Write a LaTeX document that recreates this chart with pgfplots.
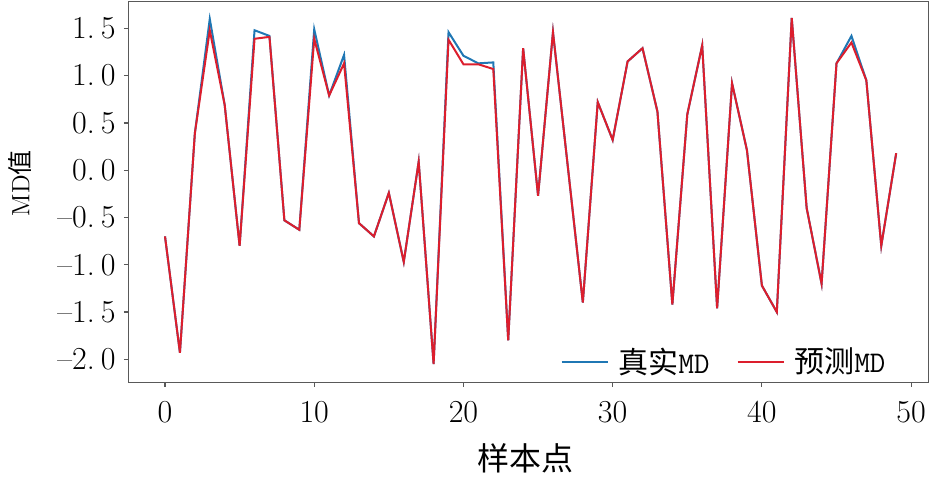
\documentclass[border=0pt]{standalone}
\usepackage{pgfplots}
\pgfplotsset{compat=1.18}
\usepackage{pgfplotstable}
\usepackage{fontspec}
\newfontfamily\cjk{Noto Sans CJK SC}
\definecolor{tblue}{HTML}{1F77B4}
\definecolor{tred}{RGB}{220,30,45}

\pgfplotstableread{
x y
0 -0.70
1 -1.93
2 0.39
3 1.60
4 0.69
5 -0.80
6 1.48
7 1.42
8 -0.53
9 -0.63
10 1.49
11 0.79
12 1.22
13 -0.56
14 -0.70
15 -0.24
16 -0.97
17 0.09
18 -2.05
19 1.46
20 1.21
21 1.13
22 1.14
23 -1.80
24 1.29
25 -0.27
26 1.46
27 0.03
28 -1.40
29 0.72
30 0.32
31 1.15
32 1.29
33 0.62
34 -1.42
35 0.59
36 1.32
37 -1.46
38 0.92
39 0.21
40 -1.22
41 -1.50
42 1.61
43 -0.40
44 -1.20
45 1.13
46 1.42
47 0.95
48 -0.80
49 0.18
}\truedata

\pgfplotstableread{
x y
0 -0.70
1 -1.93
2 0.39
3 1.48
4 0.69
5 -0.80
6 1.39
7 1.41
8 -0.53
9 -0.63
10 1.39
11 0.79
12 1.13
13 -0.56
14 -0.70
15 -0.24
16 -0.97
17 0.09
18 -2.05
19 1.38
20 1.12
21 1.12
22 1.07
23 -1.80
24 1.29
25 -0.27
26 1.46
27 0.03
28 -1.40
29 0.72
30 0.32
31 1.15
32 1.29
33 0.62
34 -1.42
35 0.59
36 1.32
37 -1.46
38 0.92
39 0.21
40 -1.22
41 -1.50
42 1.61
43 -0.40
44 -1.20
45 1.13
46 1.35
47 0.95
48 -0.80
49 0.18
}\preddata

\begin{document}
\begin{tikzpicture}
\begin{axis}[
  scale only axis,
  width=399.85pt, height=190.3pt,
  xmin=-2.46, xmax=51.14,
  ymin=-2.243, ymax=1.782,
  axis line style={black!65, line width=0.6pt},
  tick pos=left,
  tick align=outside,
  major tick length=2.2pt,
  tick style={black!65, line width=0.6pt},
  xtick={0,10,20,30,40,50},
  ytick={-2,-1.5,-1,-0.5,0,0.5,1,1.5},
  yticklabels={--2.\hspace{3pt}0,--1.\hspace{3pt}5,--1.\hspace{3pt}0,--0.\hspace{3pt}5,0.\hspace{3pt}0,0.\hspace{3pt}5,1.\hspace{3pt}0,1.\hspace{3pt}5},
  /pgf/number format/assume math mode=true,
  xticklabel style={font=\fontsize{16}{18}\selectfont, inner sep=0pt, anchor=north, yshift=-7pt},
  yticklabel style={font=\fontsize{16}{18}\selectfont, inner sep=0pt, anchor=east, xshift=-4pt},
  xlabel={\cjk 样本点},
  xlabel style={font=\fontsize{16}{18}\selectfont, at={(axis description cs:0.497,-0.2004)}, anchor=center},
  ylabel={MD{\cjk 值}},
  ylabel style={font=\fontsize{12.5}{14}\selectfont, at={(axis description cs:-0.1355,0.523)}, anchor=center},
  legend columns=2,
  legend style={draw=none, fill=none, at={(axis description cs:0.54,0.0533)}, anchor=west,
    inner sep=0pt, font=\fontsize{15}{17}\selectfont,
    nodes={inner sep=0pt},
    /tikz/every odd column/.style={column sep=5pt},
    /tikz/every even column/.style={column sep=13.5pt}},
  legend image code/.code={\draw[#1] (0pt,0pt) -- (23pt,0pt);},
]
\addplot[tblue, line width=1pt] table[x=x,y=y] {\truedata};
\addlegendentry{{\cjk 真实}{\ttfamily MD}}
\addplot[tred, line width=1pt] table[x=x,y=y] {\preddata};
\addlegendentry{{\cjk 预测}{\ttfamily MD}}
\end{axis}
\pgfresetboundingbox
\path[use as bounding box] (-64.15pt,-47.35pt) rectangle (403.35pt,191.15pt);
\end{tikzpicture}
\end{document}
